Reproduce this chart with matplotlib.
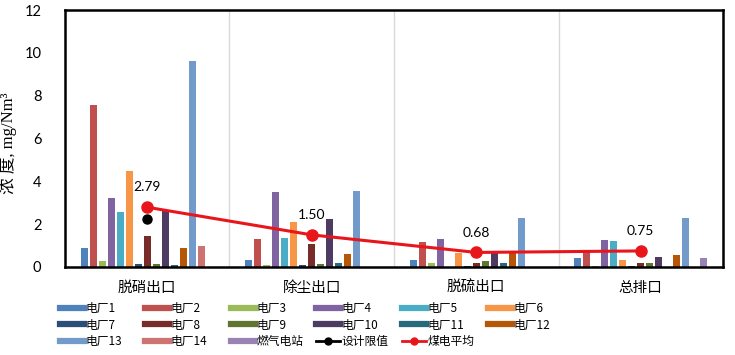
"""燃煤电厂各工段出口颗粒物浓度对比图。

出力:
    - out.png
"""

import matplotlib

matplotlib.use("Agg")
import matplotlib.pyplot as plt
import numpy as np
from matplotlib.lines import Line2D

plt.rcParams["font.family"] = ["Lato", "Noto Sans CJK SC", "DejaVu Sans"]

# カテゴリ（工段）
CATEGORIES = ["脱硝出口", "除尘出口", "脱硫出口", "总排口"]

# 系列名
SERIES = [
    "电厂1", "电厂2", "电厂3", "电厂4", "电厂5", "电厂6", "电厂7", "电厂8",
    "电厂9", "电厂10", "电厂11", "电厂12", "电厂13", "电厂14", "燃气电站",
]

# 各系列の値（mg/Nm3）
PLANT_1 = [0.88, 0.31, 0.35, 0.40]
PLANT_2 = [7.55, 1.29, 1.15, 0.78]
PLANT_3 = [0.27, 0.08, 0.20, 0.05]
PLANT_4 = [3.20, 3.49, 1.30, 1.26]
PLANT_5 = [2.56, 1.34, 0.00, 1.20]
PLANT_6 = [4.49, 2.09, 0.67, 0.35]
PLANT_7 = [0.13, 0.08, 0.05, 0.05]
PLANT_8 = [1.45, 1.06, 0.20, 0.20]
PLANT_9 = [0.13, 0.13, 0.30, 0.20]
PLANT_10 = [2.60, 2.23, 0.66, 0.45]
PLANT_11 = [0.08, 0.17, 0.20, 0.00]
PLANT_12 = [0.88, 0.60, 0.66, 0.55]
PLANT_13 = [9.61, 3.54, 2.28, 2.28]
PLANT_14 = [0.98, 0.00, 0.00, 0.00]
GAS_PLANT = [0.00, 0.00, 0.00, 0.40]

DESIGN_LIMIT = [2.23, np.nan, np.nan, np.nan]
COAL_AVG = [2.79, 1.50, 0.68, 0.75]

VALUES = [
    PLANT_1, PLANT_2, PLANT_3, PLANT_4, PLANT_5, PLANT_6, PLANT_7, PLANT_8,
    PLANT_9, PLANT_10, PLANT_11, PLANT_12, PLANT_13, PLANT_14, GAS_PLANT,
]

# Excel風の配色
COLORS = [
    "#4F81BD", "#C0504D", "#9BBB59", "#8064A2", "#4BACC6", "#F79646",
    "#2C4D75", "#772C2A", "#5F7530", "#4D3B62", "#276A7C", "#B65708",
    "#729ACA", "#CD7371", "#9983B5",
]

fig = plt.figure(figsize=(7.35, 3.55), dpi=100)
ax = fig.add_axes([0.0884, 0.2479, 0.8953, 0.7239])

x = np.arange(len(CATEGORIES))
n = len(SERIES)
slot = 0.82 / n
width = slot * 0.78

for i, (vals, color) in enumerate(zip(VALUES, COLORS)):
    ax.bar(x + (i - (n - 1) / 2) * slot, vals, width=width, color=color, zorder=2)

# 設計限値・煤電平均
ax.plot(x, DESIGN_LIMIT, color="black", marker="o", markersize=6.5, lw=2, zorder=4)
ax.plot(x, COAL_AVG, color="#E8161B", marker="o", markersize=8, lw=2.2, zorder=5)
for xi, v in zip(x, COAL_AVG):
    ax.annotate(f"{v:.2f}", (xi, v), xytext=(0, 10), textcoords="offset points",
                ha="center", va="bottom", fontsize=10)

# カテゴリ境界の縦線
for b in x[:-1] + 0.5:
    ax.axvline(b, color="#D9D9D9", lw=1, zorder=1)

ax.set_xlim(-0.5, len(CATEGORIES) - 0.5)
ax.set_ylim(0, 12)
ax.set_yticks(range(0, 13, 2))
ax.set_xticks(x)
ax.set_xticklabels(CATEGORIES, fontsize=10.5, family=["Noto Sans CJK SC"])
ax.tick_params(axis="both", length=0)
ax.tick_params(axis="y", labelsize=10.5, pad=17)
ax.tick_params(axis="x", pad=10)

for s in ax.spines.values():
    s.set_color("black")
    s.set_linewidth(1.8)

ax.set_ylabel("浓 度, mg/Nm³", fontsize=12,
              family=["Liberation Serif", "Noto Sans CJK SC"])
ax.yaxis.set_label_coords(-0.073, 0.48)

# 凡例（列ごとに配置）
handles = [Line2D([], [], color=c, lw=4.5) for c in COLORS]
handles.append(Line2D([], [], color="black", lw=2, marker="o", markersize=5))
handles.append(Line2D([], [], color="#E8161B", lw=2, marker="o", markersize=5))
labels = SERIES + ["设计限值", "煤电平均"]

col_x = [60, 145, 231, 316, 402, 488]
for c in range(6):
    idx = [c, c + 6, c + 12]
    idx = [k for k in idx if k < len(handles)]
    fig.legend(
        [handles[k] for k in idx],
        [labels[k] for k in idx],
        loc="upper left",
        bbox_to_anchor=(col_x[c] / 735, 1 - 302 / 355),
        frameon=False,
        borderpad=0,
        borderaxespad=0,
        handlelength=2.0,
        handletextpad=0.15,
        labelspacing=0.3,
        prop={"family": ["Noto Sans CJK SC"], "size": 8.5},
    )

fig.savefig("out.png", dpi=100)
